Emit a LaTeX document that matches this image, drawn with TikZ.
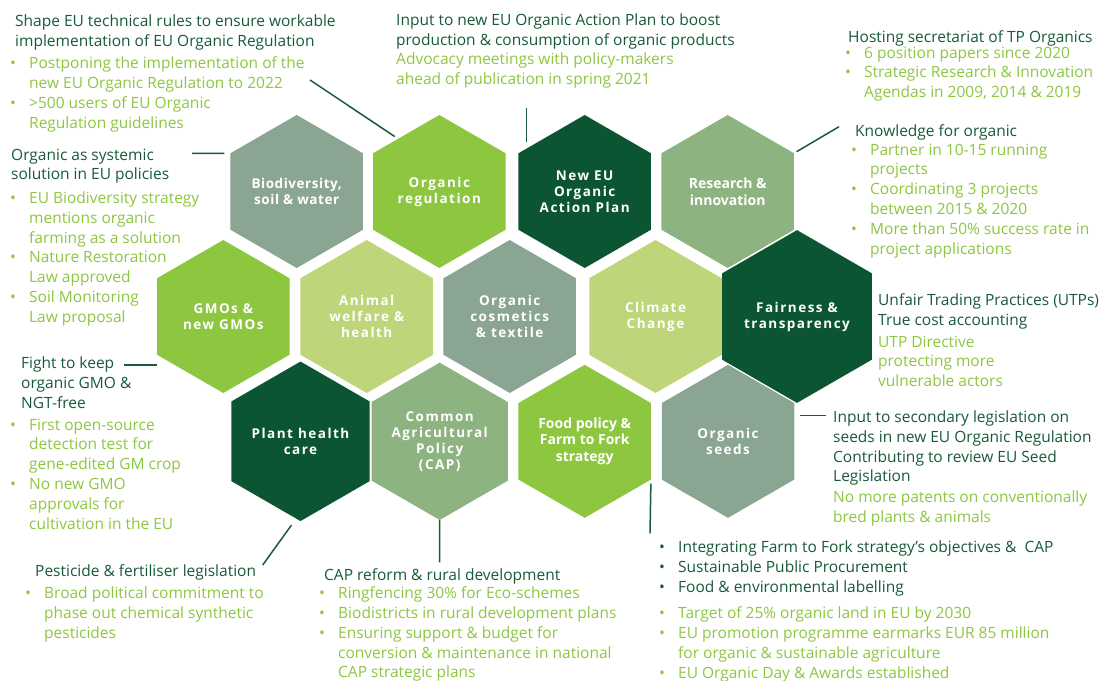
\documentclass[tikz,border=0pt]{standalone}
\usepackage{fontspec}
\setmainfont{Open Sans}
\newfontfamily\hexfont[LetterSpace=11]{Open Sans}
\newfontfamily\hexfontb[LetterSpace=4]{Open Sans}
\usetikzlibrary{shapes.geometric}
\definecolor{hgray}{RGB}{139,165,147}
\definecolor{hbright}{RGB}{141,198,63}
\definecolor{hdark}{RGB}{11,85,51}
\definecolor{hmid}{RGB}{141,179,128}
\definecolor{hlight}{RGB}{190,214,121}
\definecolor{txtdark}{RGB}{24,90,56}
\definecolor{txtlight}{RGB}{141,198,63}
\definecolor{linec}{RGB}{24,90,58}
\newcommand{\itm}{\makebox[19pt][l]{\textbullet}}
\newcommand{\indt}{\hspace*{19pt}}

\begin{document}
\begin{tikzpicture}[x=1pt, y=-1pt,
  hx/.style = {regular polygon, regular polygon sides=6, shape border rotate=30, minimum size=153pt, inner sep=0pt, outer sep=0pt, text=white, align=center, font=\hexfont\bfseries\fontsize{13.5}{16}\selectfont},
  hxb/.style = {hx, font=\hexfontb\bfseries\fontsize{13.5}{16}\selectfont},
  hxn/.style = {hx, font=\bfseries\fontsize{14}{16.5}\selectfont},
  head/.style = {anchor=north west, yshift=11.4pt, execute at begin node=\strut, inner sep=0pt, align=left, text=txtdark, font=\fontsize{15.5}{19.8}\selectfont},
  list/.style = {head, text=txtlight},
  link/.style = {draw=linec, line width=1.5pt}]
    \useasboundingbox (0,0) rectangle (1100,680);
    \node at (296.7,191.5) [hxb, fill=hgray] (bio) {Biodiversity,\\soil \& water};
    \node at (439.3,191.5) [hx, fill=hbright] (reg) {Organic\\regulation};
    \node at (584.7,191.5) [hx, fill=hdark] (plan) {New EU\\Organic\\Action Plan};
    \node at (727.7,191.5) [hxn, fill=hmid] (res) {Research \&\\innovation};
    \node at (223.3,316.5) [hx, fill=hbright] (gmo) {GMOs \&\\new GMOs};
    \node at (366.7,316.5) [hx, fill=hlight] (animal) {Animal\\welfare \&\\health};
    \node at (509.7,316.5) [hx, fill=hgray] (cosm) {Organic\\cosmetics\\\& textile};
    \node at (655.5,316.5) [hx, fill=hlight] (climate) {Climate\\Change};
    \node at (797,316.5) [hx, fill=hdark] (fair) {Fairness \&\\transparency};
    \node at (300.5,441.3) [hx, fill=hdark] (plant) {Plant health\\care};
    \node at (439.7,441.3) [hx, fill=hmid] (cap) {Common\\Agricultural\\Policy\\(CAP)};
    \node at (584.7,441.3) [hxn, fill=hbright] (food) {Food policy \&\\Farm to Fork\\strategy};
    \node at (728,441.3) [hx, fill=hgray] (seeds) {Organic\\seeds};

    \node at (15,26) [head] (shapeT) {Shape EU technical rules to ensure workable\\implementation of EU Organic Regulation};
    \node at (10,68) [list] (shapeL) {\itm Postponing the implementation of the\\\indt new EU Organic Regulation to 2022\\\itm >500 users of EU Organic\\\indt Regulation guidelines};
    \node at (11,160) [head] (systT) {Organic as systemic\\solution in EU policies};
    \node at (10,203) [list] (systL) {\itm EU Biodiversity strategy\\\indt mentions organic\\\indt farming as a solution\\\itm Nature Restoration\\\indt Law approved\\\itm Soil Monitoring\\\indt Law proposal};
    \node at (396,25) [head] (planT) {Input to new EU Organic Action Plan to boost\\production \& consumption of organic products};
    \node at (396,64) [list] (planL) {Advocacy meetings with policy-makers\\ahead of publication in spring 2021};
    \node at (848,40) [head] (tpT) {Hosting secretariat of TP Organics};
    \node at (845,58) [list] (tpL) {\itm 6 position papers since 2020\\\itm Strategic Research \& Innovation\\\indt Agendas in 2009, 2014 \& 2019};
    \node at (855,134) [head] (knowT) {Knowledge for organic};
    \node at (851,155) [list] (knowL) {\itm Partner in 10-15 running\\\indt projects\\\itm Coordinating 3 projects\\\indt between 2015 \& 2020\\\itm More than 50\% success rate in\\\indt project applications};
    \node at (878,305) [head] (fairT) {Unfair Trading Practices (UTPs)\\True cost accounting};
    \node at (878,347) [list] (fairL) {UTP Directive\\protecting more\\vulnerable actors};
    \node at (833,422) [head] (seedT) {Input to secondary legislation on\\seeds in new EU Organic Regulation\\Contributing to review EU Seed\\Legislation};
    \node at (833,502) [list] (seedL) {No more patents on conventionally\\bred plants \& animals};
    \node at (659,552) [head] (foodT) {\itm Integrating Farm to Fork strategy’s objectives \&\ \ CAP\\\itm Sustainable Public Procurement\\\itm Food \& environmental labelling};
    \node at (659,618) [list] (foodL) {\itm Target of 25\% organic land in EU by 2030\\\itm EU promotion programme earmarks EUR 85 million\\\indt for organic \& sustainable agriculture\\\itm EU Organic Day \& Awards established};
    \node at (21,368) [head] (gmoT) {Fight to keep\\organic GMO \&\\NGT-free};
    \node at (10,430) [list] (gmoL) {\itm First open-source\\\indt detection test for\\\indt gene-edited GM crop\\\itm No new GMO\\\indt approvals for\\\indt cultivation in the EU};
    \node at (35,574) [head] (pestT) {Pesticide \& fertiliser legislation};
    \node at (25,598) [list] (pestL) {\itm Broad political commitment to\\\indt phase out chemical synthetic\\\indt pesticides};
    \node at (324,578) [head] (capT) {CAP reform \& rural development};
    \node at (319,598) [list] (capL) {\itm Ringfencing 30\% for Eco-schemes\\\itm Biodistricts in rural development plans\\\itm Ensuring support \& budget for\\\indt conversion \& maintenance in national\\\indt CAP strategic plans};

    \coordinate (a) at (310,80);
    \coordinate (b) at (192,153.3);
    \coordinate (c) at (526.7,108);
    \coordinate (e) at (839,126.7);
    \coordinate (g) at (826,415.7);
    \coordinate (h) at (650,533.3);
    \coordinate (i) at (124,365);
    \coordinate (j) at (262.7,565);
    \coordinate (k) at (439.7,562.3);
    \draw[link, shorten <=4pt] (reg.128) -- (a);
    \draw[link, shorten <=6pt] (bio.150) -- (b);
    \draw[link, shorten <=11.5pt] (c |- plan.150) -- (c);
    \draw[link, shorten <=3pt] (res.30) -- (e);
    \draw[link, shorten <=6pt] (g -| seeds.east) -- (g);
    \draw[link, shorten <=4pt] (food.330) -- (h);
    \draw[link] (i -| gmo.west) -- (i);
    \draw[link] ([xshift=-9pt,yshift=-4pt]plant.south) -- (j);
    \draw[link] (cap.south) -- (k);
\end{tikzpicture}
\end{document}
